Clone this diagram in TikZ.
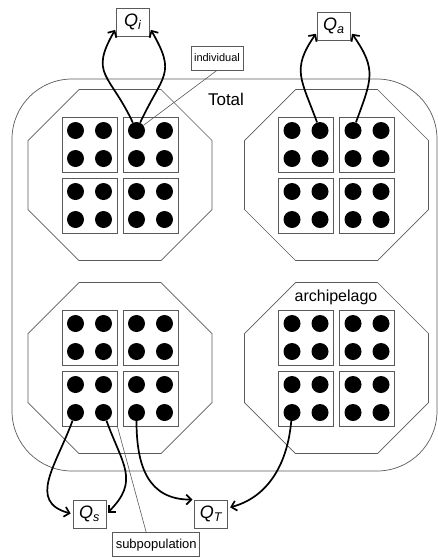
\documentclass[tikz,border=0pt]{standalone}
\usepackage{fontspec}
\setmainfont{Liberation Sans}
\usetikzlibrary{arrows.meta, positioning}
\definecolor{edgegray}{RGB}{90,90,90}
\newcommand{\qlabel}[1]{\textit{Q}\textsubscript{\textit{#1}}}

\begin{document}
\begin{tikzpicture}[x=1pt, y=1pt,
    subpop/.style={rectangle, draw=edgegray, line width=0.8pt, minimum size=55pt, inner sep=0pt},
    indiv/.style={circle, fill=black, minimum size=17pt, inner sep=0pt},
    qbox/.style={rectangle, draw=edgegray, line width=0.8pt, fill=white, minimum width=33pt, minimum height=28pt, inner sep=1pt, font=\fontsize{18}{20}\selectfont},
    tag/.style={rectangle, draw=edgegray, line width=0.7pt, fill=white, minimum height=24pt, inner sep=3pt},
    flow/.style={draw=black, line width=1.7pt, -{Straight Barb[length=5pt, width=10pt]}, shorten >=2pt},
    leader/.style={draw=edgegray, line width=0.6pt}]
  \useasboundingbox (0,0) rectangle (438,-558);

  \node [draw=edgegray, line width=0.7pt, rounded corners=60pt, minimum width=425pt, minimum height=392pt] (total) at (224.5,-275) {};
  \node [font=\fontsize{17}{20}\selectfont] (totallabel) at (226,-99) {Total};

  \foreach \arch/\cx/\cy in {nw/120/-175, ne/336.5/-175, sw/120/-368, se/336.5/-368} {
    \begin{scope}[shift={(\cx,\cy)}]
      \draw [edgegray, line width=0.7pt] (-41,85.5) -- (41,85.5) -- (92,34.5) -- (92,-34.5) -- (41,-85.5) -- (-41,-85.5) -- (-92,-34.5) -- (-92,34.5) -- cycle;
      \foreach \sub/\sx/\sy in {1/-30.5/30.5, 2/30.5/30.5, 3/-30.5/-30.5, 4/30.5/-30.5} {
        \begin{scope}[shift={(\sx,\sy)}]
          \node [subpop] (\arch-\sub) at (0,0) {};
          \foreach \ind/\dx/\dy in {1/-14/14, 2/14/14, 3/-14/-14, 4/14/-14}
            \node [indiv] (\arch-\sub-\ind) at (\dx,\dy) {};
        \end{scope}
      }
    \end{scope}
  }
  \node [font=\fontsize{16}{19}\selectfont] (archlabel) at (336,-297) {archipelago};

  \node [qbox] (qi) at (133,-22) {\qlabel{i}};
  \node [qbox] (qa) at (334,-26) {\qlabel{a}};
  \node [qbox] (qs) at (89.5,-514) {\qlabel{s}};
  \node [qbox, right=88pt of qs] (qt) {\qlabel{T}};

  \node [tag, font=\fontsize{11}{13}\selectfont] (ind) at (217,-58) {individual};
  \node [tag, font=\fontsize{13}{15}\selectfont, below right=4pt and 6pt of qs.south east, anchor=north west] (sub) {subpopulation};

  \path [leader] (ind.south) -- (nw-2-1);
  \path [leader] (sw-3.south east) -- ([xshift=-10pt]sub.north);

  \path [flow] (nw-2-1) to[out=115, in=240, looseness=1.45] (qi.200);
  \path [flow] (nw-2-1) to[out=65, in=300, looseness=1.45] (qi.340);
  \path [flow] (ne-1-2) to[out=110, in=235, looseness=1.3] (qa.200);
  \path [flow] (ne-2-1) to[out=70, in=305, looseness=1.3] (qa.340);
  \path [flow] (sw-3-3) to[out=250, in=165, looseness=1.3] (qs.west);
  \path [flow] (sw-3-4) to[out=290, in=45, looseness=1.3] (qs.east);
  \path [flow] (sw-4-3) to[out=270, in=180, looseness=1.2] (qt.north west);
  \path [flow] (se-3-3) to[out=265, in=15] (qt.20);
\end{tikzpicture}
\end{document}
